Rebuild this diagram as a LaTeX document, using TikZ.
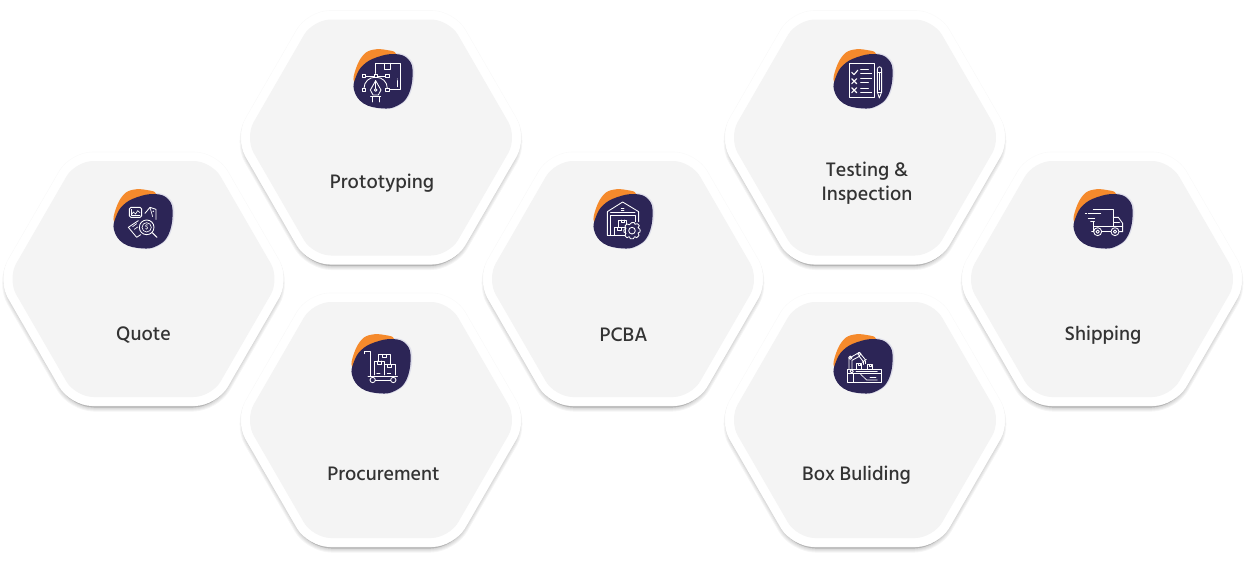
\documentclass[tikz,border=0pt]{standalone}
\usepackage{fontspec}
\setmainfont{Hind Siliguri Medium}
\definecolor{hexgray}{HTML}{F4F4F4}
\definecolor{blobdark}{HTML}{2C2556}
\definecolor{bloborange}{HTML}{F58A2C}
\definecolor{blobhalo}{HTML}{DEDEEA}
\definecolor{labeltext}{HTML}{333333}
\tikzset{
  hexouter/.style={fill=white,rounded corners=22pt},
  hexinner/.style={fill=hexgray,rounded corners=18pt},
  hexshade/.style={draw=black,fill=black,rounded corners=22pt,draw opacity=.04,fill opacity=.04,line join=round},
  hexrim/.style={draw=black,draw opacity=.018,line width=.6pt,rounded corners=22pt},
  hexlabel/.style={text=labeltext,font=\fontsize{20pt}{24pt}\selectfont,align=center,inner sep=0pt},
  icon/.style={draw=white,line width=.65pt,line join=round,line cap=round},
  iconthick/.style={icon,line width=.85pt},
}
% regular hexagon around the current origin; #1 = half height
\newcommand{\hexpath}[1]{
  ({-#1*1.1547},0) -- ({-#1*.57735},{-#1}) -- ({#1*.57735},{-#1}) --
  ({#1*1.1547},0) -- ({#1*.57735},{#1}) -- ({-#1*.57735},{#1}) -- cycle}
% #1 name, #2 x, #3 y, #4 label, #5 label x offset, #6 label y offset
\newcommand{\hexcell}[6]{
  \begin{scope}[shift={(#2,#3)}]
    \foreach \w in {8,6,4,2}{
      \fill[hexshade,line width=\w pt,shift={(0,4)}] \hexpath{124.5};
    }
    \path[hexouter] \hexpath{127};
    \draw[hexrim] \hexpath{127};
    \path[hexinner] \hexpath{118};
    \node[hexlabel] (#1) at (#5,#6) {#4};
  \end{scope}
}
% blob in crop coordinates; #1,#2 crop origin in pixels
\newcommand{\blob}[2]{
  \begin{scope}[shift={(#1,#2)},x=.3333pt,y=-.3333pt]
    \fill[blobhalo] plot[smooth cycle,tension=.7] coordinates {(46,150)(52,110)(74,75)(114,50)(170,39)(210,57)(223,100)(209,165)(174,199)(129,207)(74,191)};
    \fill[bloborange] plot[smooth cycle,tension=.7] coordinates {(42,125)(48,85)(70,45)(100,29)(140,30)(168,42)(150,80)(70,130)};
    \fill[blobdark] plot[smooth cycle,tension=.7] coordinates {(42,150)(48,110)(70,75)(110,52)(165,42)(205,58)(218,100)(205,165)(170,198)(125,205)(70,190)};
  \end{scope}
}
\begin{document}
\begin{tikzpicture}[x=1pt,y=-1pt]
\useasboundingbox (0,0) rectangle (1248,565);
\fill[white] (0,0) rectangle (1248,565);

\hexcell{quote}{143.5}{279}{Quote}{0}{56.5}
\hexcell{prototyping}{381}{137.5}{Prototyping}{1}{45.5}
\hexcell{procurement}{381}{420}{Procurement}{2.5}{54}
\hexcell{pcba}{623}{279}{PCBA}{0.5}{56}
\hexcell{testing}{865}{137.5}{Testing \&\\Inspection}{2}{45.5}
\hexcell{boxbuilding}{865}{420}{Box Buliding}{-8.5}{55.5}
\hexcell{shipping}{1102}{279}{Shipping}{1}{56.5}

\blob{100}{180}
\blob{340}{40}
\blob{338}{325}
\blob{580}{180}
\blob{820}{40}
\blob{820}{325}
\blob{1060}{180}

% Quote icon
\begin{scope}[shift={(100,180)},x=.3333pt,y=-.3333pt]
  \draw[iconthick,rounded corners=1.5pt] (88,82) rectangle (125,112);
  \draw[icon] (94,105) -- (100,96) -- (107,102) -- (113,92) -- (120,98);
  \draw[icon] (94,88) -- (94,106) -- (120,106);
  \draw[iconthick] (135,100) -- (150,82) -- (168,88) -- (168,118);
  \draw[icon] (150,82) -- (158,110);
  \fill[white] (160,94) circle (2.5);
  \draw[iconthick] (140,142) circle (22);
  \draw[icon] (140,142) circle (14);
  \node[text=white,inner sep=0pt,font=\fontsize{6.5pt}{7pt}\selectfont] (quotedollar) at (140,142) {\$};
  \draw[iconthick,line width=1.1pt] (157,158) -- (171,172);
  \draw[iconthick] (115,122) -- (85,142) -- (110,172) -- (122,164);
  \draw[icon] (98,140) -- (110,131);
  \draw[icon] (103,148) -- (113,141);
\end{scope}

% Prototyping icon
\begin{scope}[shift={(340,40)},x=.3333pt,y=-.3333pt]
  \draw[iconthick] (107,100) -- (107,70) -- (180,70) -- (180,147) -- (150,147);
  \draw[iconthick] (134,70) -- (134,88) -- (150,88) -- (150,70);
  \draw[iconthick] (172,122) -- (172,140);
  \fill[white] (172,117) circle (1.5);
  \draw[iconthick] (77,108) -- (102,108);
  \draw[iconthick] (112,108) -- (137,108);
  \foreach \a/\b in {72/108,107/108,142/108,72/150,142/150}{
    \draw[iconthick] (\a-5,\b-5) rectangle (\a+5,\b+5);
  }
  \draw[iconthick] (72,145) .. controls (72,125) and (88,112) .. (104,112);
  \draw[iconthick] (142,145) .. controls (142,125) and (126,112) .. (110,112);
  \draw[iconthick] (107,122) -- (91,150) -- (99,165) -- (115,165) -- (123,150) -- cycle;
  \draw[iconthick] (107,122) -- (107,145);
  \draw[iconthick] (107,150) circle (4);
  \draw[iconthick] (92,170) -- (122,170);
  \draw[iconthick] (96,170) -- (96,186);
  \draw[iconthick] (118,170) -- (118,186);
\end{scope}

% Procurement icon
\begin{scope}[shift={(340,325)},x=.3333pt,y=-.3333pt]
  \draw[iconthick] (74,86) -- (74,79) -- (90,79) -- (90,155);
  \draw[iconthick] (84,155) -- (172,155);
  \draw[iconthick] (98,165) circle (8);
  \draw[iconthick] (160,165) circle (8);
  \draw[iconthick] (106,165) -- (152,165);
  \draw[iconthick] (103,150) -- (103,108) -- (133,108) -- (133,150);
  \draw[iconthick] (133,118) -- (165,118) -- (165,150);
  \draw[iconthick] (115,108) -- (115,88) -- (150,88) -- (150,118);
  \draw[icon] (126,88) -- (126,97) -- (138,97) -- (138,88);
  \draw[icon] (112,108) -- (112,117) -- (124,117) -- (124,108);
  \draw[icon] (143,118) -- (143,126) -- (155,126) -- (155,118);
  \draw[icon] (110,144) -- (120,144);
  \draw[icon] (142,144) -- (152,144);
\end{scope}

% PCBA icon
\begin{scope}[shift={(580,180)},x=.3333pt,y=-.3333pt]
  \draw[iconthick] (82,165) -- (82,95) -- (128,66) -- (176,95) -- (176,125);
  \draw[iconthick] (92,165) -- (92,106) -- (165,106) -- (165,125);
  \draw[iconthick] (92,98) -- (165,98);
  \draw[iconthick] (124,84) -- (132,84);
  \draw[iconthick] (124,90) -- (132,90);
  \draw[iconthick] (82,165) -- (135,165);
  \draw[iconthick] (115,142) -- (115,120) -- (140,120) -- (140,134);
  \draw[iconthick] (102,165) -- (102,142) -- (135,142) -- (135,165);
  \draw[icon] (123,120) -- (123,128) -- (132,128) -- (132,120);
  \draw[icon] (113,142) -- (113,150) -- (123,150) -- (123,142);
  \draw[iconthick] plot[smooth cycle,tension=.3] coordinates {
    (155,128)(163,128)(165,133)(172,131)(178,137)(174,143)(180,148)(180,156)(174,159)(177,166)(170,173)(164,170)(160,176)(151,176)(148,170)(141,173)(135,167)(138,160)(132,156)(132,148)(138,145)(135,138)(141,132)(148,134)};
  \draw[iconthick] (156,152) circle (10);
\end{scope}

% Testing icon
\begin{scope}[shift={(820,40)},x=.3333pt,y=-.3333pt]
  \draw[iconthick] (87,70) rectangle (163,172);
  \draw[iconthick,line width=1.1pt] (95,97) -- (102,104) -- (113,91);
  \draw[iconthick,line width=1.1pt] (95,116) -- (110,131);
  \draw[iconthick,line width=1.1pt] (110,116) -- (95,131);
  \draw[iconthick,line width=1.1pt] (95,143) -- (110,158);
  \draw[iconthick,line width=1.1pt] (110,143) -- (95,158);
  \foreach \b/\e in {88/145,100/155,116/155,128/145,145/145,157/155}{
    \draw[iconthick] (122,\b) -- (\e,\b);
  }
  \draw[iconthick] (172,88) .. controls (172,78) and (185,78) .. (185,88) -- (185,156) -- (178,174) -- (172,156) -- cycle;
  \draw[iconthick] (172,98) -- (185,98);
  \draw[iconthick] (172,156) -- (185,156);
  \draw[iconthick] (178,98) -- (178,150);
\end{scope}

% Box building icon
\begin{scope}[shift={(820,325)},x=.3333pt,y=-.3333pt]
  \draw[iconthick] (82,132) rectangle (185,146);
  \draw[iconthick] (82,146) -- (82,172) -- (185,172) -- (185,146);
  \draw[iconthick] (95,139) circle (5);
  \draw[icon] (108,139) -- (172,139);
  \draw[icon] (100,146) -- (100,172);
  \draw[icon] (122,148) -- (140,165) -- (172,165);
  \draw[icon] (150,158) -- (168,158);
  \draw[iconthick] (108,132) -- (108,116) -- (125,116) -- (125,132);
  \draw[iconthick] (142,132) -- (142,118) -- (158,118) -- (158,132);
  \draw[icon] (114,116) -- (114,122) -- (120,122) -- (120,116);
  \draw[icon] (148,118) -- (148,124) -- (153,124) -- (153,118);
  \draw[iconthick] (87,132) -- (87,100) -- (118,82) -- (136,104);
  \draw[iconthick] (96,132) -- (96,106) -- (118,94) -- (130,110);
  \draw[iconthick] (91,98) circle (5);
  \draw[iconthick] (118,87) circle (5);
  \draw[iconthick] (127,112) -- (139,103);
  \draw[iconthick] (130,112) -- (130,118);
  \draw[iconthick] (136,108) -- (136,116);
\end{scope}

% Shipping icon
\begin{scope}[shift={(1060,180)},x=.3333pt,y=-.3333pt]
  \draw[iconthick] (100,88) -- (160,88) -- (160,138) -- (100,138) -- (100,125);
  \draw[iconthick] (85,100) -- (122,100);
  \draw[iconthick] (76,100) -- (80,100);
  \draw[iconthick] (85,114) -- (104,114);
  \draw[iconthick] (92,125) -- (103,125);
  \draw[iconthick] (100,138) -- (100,155);
  \draw[iconthick] (95,155) -- (101,155);
  \draw[iconthick] (160,112) -- (175,112) -- (188,130) -- (188,155) -- (178,155);
  \draw[iconthick] (160,122) -- (160,128) -- (178,128);
  \draw[iconthick] (126,155) -- (152,155);
  \draw[iconthick] (160,138) -- (188,138);
  \draw[iconthick] (113,155) circle (12);
  \draw[iconthick] (113,155) circle (5);
  \draw[iconthick] (165,155) circle (12);
  \draw[iconthick] (165,155) circle (5);
\end{scope}
\end{tikzpicture}
\end{document}
